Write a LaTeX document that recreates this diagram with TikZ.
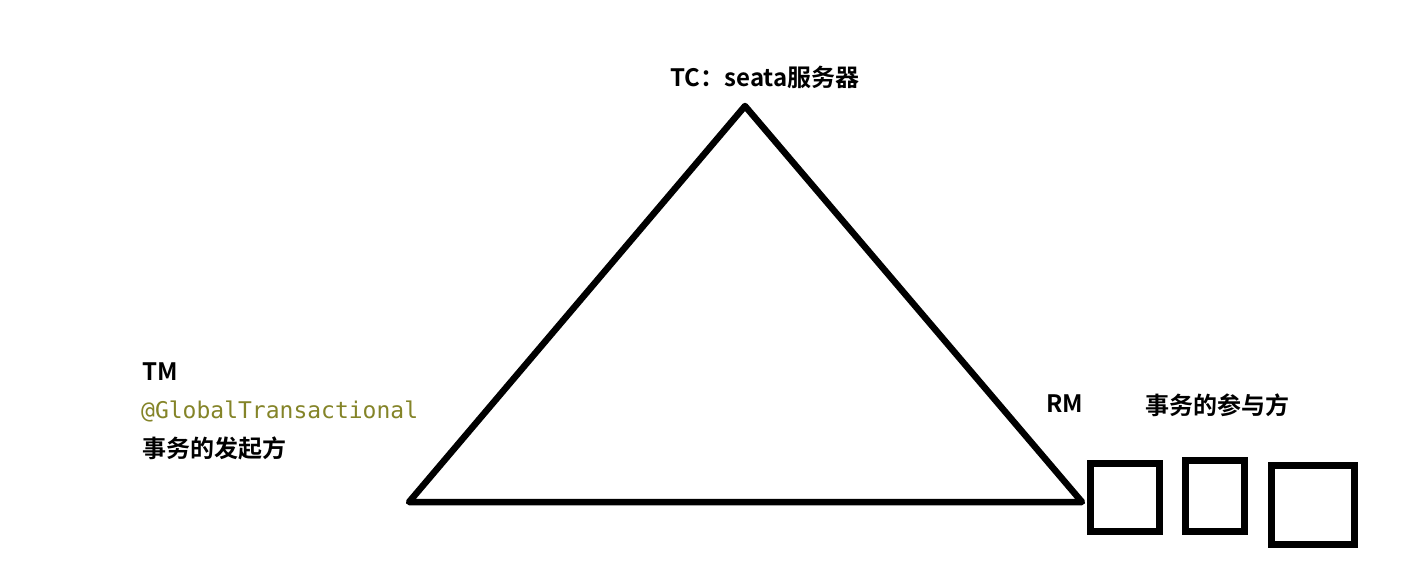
\documentclass[tikz,border=0pt]{standalone}
\usepackage{fontspec}
\newfontfamily\labelfont{Noto Sans CJK SC Bold}
\setmonofont{DejaVu Sans Mono}
\definecolor{annot}{RGB}{132,132,40}

\begin{document}
\begin{tikzpicture}[x=1pt, y=-1pt,
		lbl/.style={inner sep=0pt, font=\labelfont\fontsize{24}{28}\selectfont},
		rmbox/.style={draw, line width=6.5pt, inner sep=0pt}]
		\useasboundingbox (0,0) rectangle (1414,566);
		% triangle of roles
		\coordinate (tc) at (745,106);
		\coordinate (tm) at (409,502);
		\coordinate (rm) at (1082,502);
		\draw [line width=6.5pt, line join=round] (tc) -- (tm) -- (rm) -- cycle;
		\node (tclbl) [lbl] at (765,77) {TC：seata服务器};
		\node (tmlbl) [lbl, anchor=west] at (142,372) {TM};
		\node (anno) [anchor=west, inner sep=0pt, text=annot, font=\ttfamily\fontsize{23}{26}\selectfont] at (141,411) {@GlobalTransactional};
		\node (tmdesc) [lbl, anchor=west] at (142,448) {事务的发起方};
		\node (rmlbl) [lbl, anchor=west] at (1046,404) {RM};
		\node (rmdesc) [lbl, anchor=west] at (1145,405) {事务的参与方};
		% participants
		\node (p1) [rmbox, minimum width=69pt, minimum height=68pt] at (1125,497.5) {};
		\node (p2) [rmbox, minimum width=59pt, minimum height=71pt] at (1215,496) {};
		\node (p3) [rmbox, minimum width=83pt, minimum height=79pt] at (1313,505) {};
\end{tikzpicture}
\end{document}
